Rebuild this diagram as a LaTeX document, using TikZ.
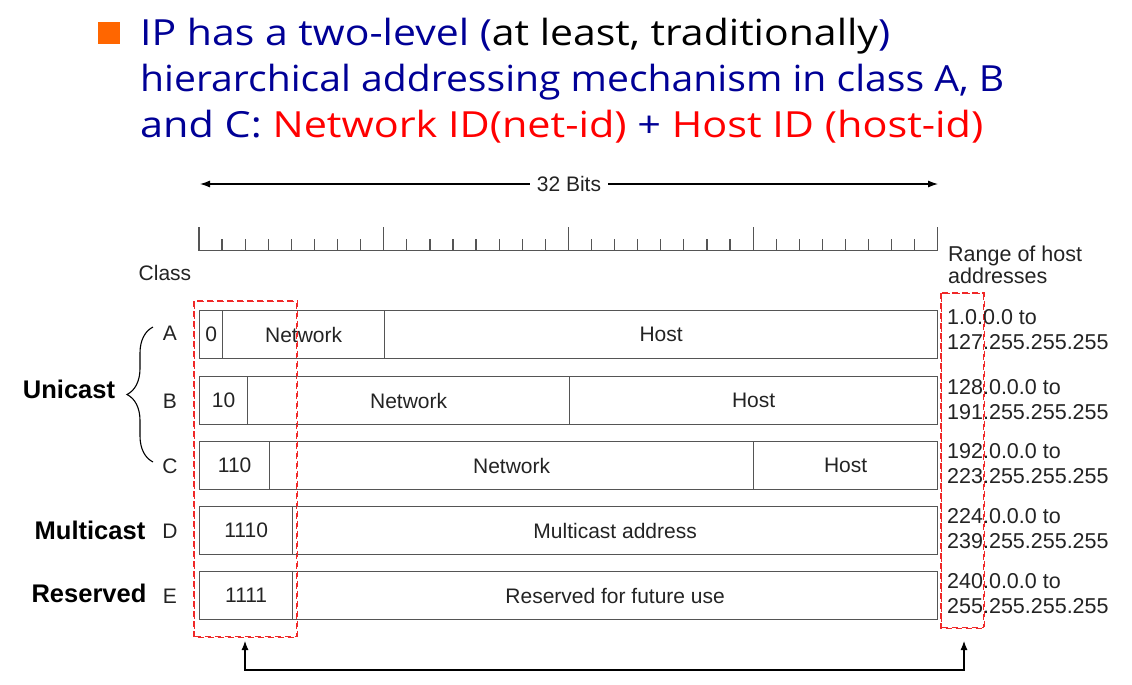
\documentclass[tikz,border=0pt]{standalone}
\usepackage{fontspec}
\setmainfont{Liberation Sans}
\newfontfamily\titlefont{Open Sans}
\usetikzlibrary{arrows.meta,decorations.pathreplacing}
\definecolor{navy}{RGB}{0,0,150}
\definecolor{hired}{RGB}{255,0,0}
\definecolor{bulletorange}{RGB}{255,102,0}
\definecolor{framegray}{RGB}{85,85,85}
\definecolor{txtgray}{RGB}{35,35,35}
\definecolor{dashred}{RGB}{240,40,40}
\begin{document}
\begin{tikzpicture}[x=1pt,y=-1pt,
  titleline/.style={anchor=base west, inner sep=0pt, font=\titlefont\fontsize{36}{40}\selectfont, text=navy},
  field/.style={draw=framegray, line width=1.3pt, minimum height=48pt, inner sep=0pt, anchor=north west, font=\fontsize{21}{24}\selectfont, text=txtgray},
  lbl/.style={inner sep=0pt, font=\fontsize{21}{24}\selectfont, text=txtgray},
  rangetxt/.style={inner sep=0pt, anchor=west, align=left, font=\fontsize{21.5}{24.5}\selectfont, text=txtgray},
  kind/.style={inner sep=0pt, font=\bfseries\fontsize{25.5}{28}\selectfont, text=black},
  reddash/.style={draw=dashred, line width=1.3pt, dash pattern=on 6pt off 4pt, inner sep=0pt, anchor=north west},
  tip/.style={line width=1.1pt, draw=black, {Latex[length=9pt,width=7pt]}-{Latex[length=9pt,width=7pt]}}
]
\useasboundingbox (0,0) rectangle (1132,685);

% title
\node[fill=bulletorange, minimum width=22pt, minimum height=22pt, inner sep=0pt, anchor=north west] (bullet) at (98,22) {};
\node[titleline] (t1) at (140,46) {\resizebox{750pt}{\height}{IP has a two-level (\textcolor{black}{at least, traditionally})}};
\node[titleline] (t2) at (140,92) {\resizebox{864pt}{\height}{hierarchical addressing mechanism in class A, B}};
\node[titleline] (t3) at (140,137) {\resizebox{843pt}{\height}{and C: \textcolor{hired}{Network ID(net-id)} + \textcolor{hired}{Host ID (host-id)}}};

% 32 bits arrow
\coordinate (bl) at (200,184);
\coordinate (br) at (938,184);
\node[lbl, fill=white, inner xsep=7pt] (bits) at (569,184) {32 Bits};
\draw[line width=1.1pt, -{Latex[length=10pt,width=7pt]}] (bits) -- (bl);
\draw[line width=1.1pt, -{Latex[length=10pt,width=7pt]}] (bits) -- (br);

% ruler
\draw[draw=framegray, line width=1.2pt] (199,250.5) -- (938,250.5);
\foreach \i in {0,...,32}{
  \pgfmathsetmacro{\xx}{199+\i*23.09}
  \pgfmathsetmacro{\yy}{mod(\i,8)==0 ? 227 : 239}
  \draw[draw=framegray, line width=1.2pt] (\xx,250.5) -- (\xx,\yy);
}
\node[lbl] (classhdr) at (165,273) {Class};
\node[rangetxt, font=\fontsize{21.5}{22}\selectfont] (rangehdr) at (948,265) {Range of host\\addresses};

% red dashed groups (behind)
\node[reddash, minimum width=102pt, minimum height=335pt] (netbox) at (194,301) {};
\node[reddash, minimum width=42pt, minimum height=334pt] (rangebox) at (941,293) {};

% rows
\node[field, minimum width=23pt] (a1) at (199,310) {0};
\node[field, minimum width=162pt] (a2) at (222,310) {Network};
\node[field, minimum width=553pt] (a3) at (384,310) {Host};

\node[field, minimum width=48pt] (b1) at (199,376) {10};
\node[field, minimum width=322pt] (b2) at (247,376) {Network};
\node[field, minimum width=368pt] (b3) at (569,376) {Host};

\node[field, minimum width=70pt] (c1) at (199,441) {110};
\node[field, minimum width=484pt] (c2) at (269,441) {Network};
\node[field, minimum width=184pt] (c3) at (753,441) {Host};

\node[field, minimum width=93pt] (d1) at (199,506) {1110};
\node[field, minimum width=645pt] (d2) at (292,506) {Multicast address};

\node[field, minimum width=93pt] (e1) at (199,571) {1111};
\node[field, minimum width=645pt] (e2) at (292,571) {Reserved for future use};

% redraw dashes on top of boxes
\draw[draw=dashred, line width=1.3pt, dash pattern=on 6pt off 4pt] (netbox.north west) rectangle (netbox.south east);
\draw[draw=dashred, line width=1.3pt, dash pattern=on 6pt off 4pt] (rangebox.north west) rectangle (rangebox.south east);

% class letters
\node[lbl] (ca) at (170,333) {A};
\node[lbl] (cb) at (170,401) {B};
\node[lbl] (cc) at (170,466) {C};
\node[lbl] (cd) at (170,531) {D};
\node[lbl] (ce) at (170,596) {E};

% ranges
\node[rangetxt] (ra) at (947,329.5) {1.0.0.0 to\\127.255.255.255};
\node[rangetxt] (rb) at (947,399.5) {128.0.0.0 to\\191.255.255.255};
\node[rangetxt] (rc) at (947,463.5) {192.0.0.0 to\\223.255.255.255};
\node[rangetxt] (rd) at (947,528.5) {224.0.0.0 to\\239.255.255.255};
\node[rangetxt] (re) at (947,593.5) {240.0.0.0 to\\255.255.255.255};

% kinds
\coordinate (bracetop) at (153,327);
\coordinate (bracebot) at (153,462);
\draw[line width=1.1pt, decorate, decoration={brace, amplitude=26pt}] (bracebot) -- (bracetop);
\node[kind] (unicast) at (69,389) {Unicast};
\node[kind] (multicast) at (90,530) {Multicast};
\node[kind] (reserved) at (89,593) {Reserved};

% bottom connector
\coordinate (lt) at (245,641);
\coordinate (rt) at (964,641);
\draw[tip] (lt) -- ++(0,29) -| (rt);
\end{tikzpicture}
\end{document}
